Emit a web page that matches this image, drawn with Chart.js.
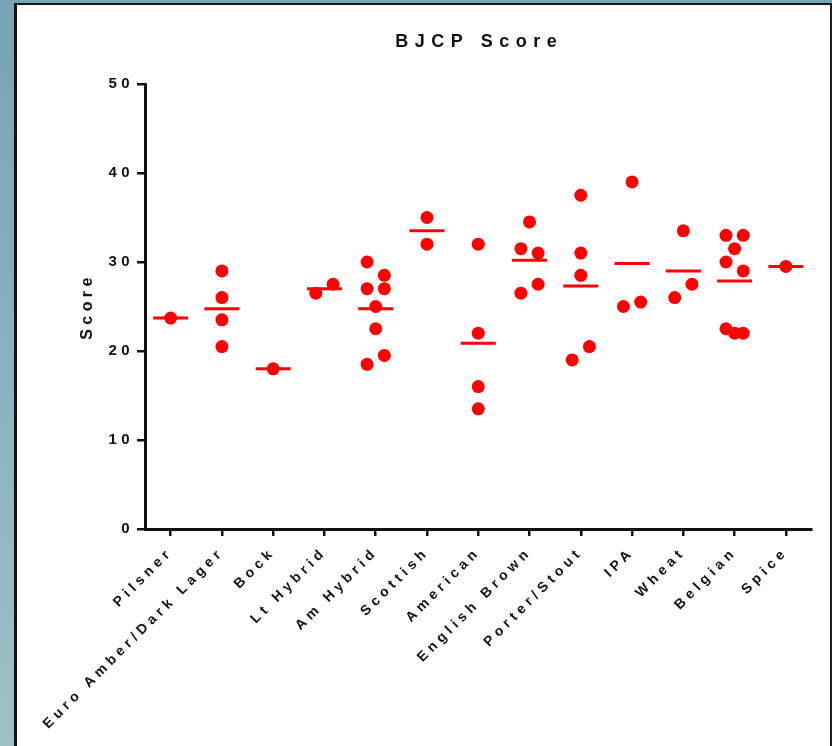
<!DOCTYPE html>
<html>
<head>
<meta charset="utf-8">
<title>BJCP Score</title>
<script src="https://cdn.jsdelivr.net/npm/chart.js@4/dist/chart.umd.min.js"></script>
<style>
  html, body { margin: 0; padding: 0; }
  body {
    width: 832px; height: 746px; position: relative; overflow: hidden;
    background: linear-gradient(to bottom, #77a4b2, #9ec0ca);
  }
  #panel {
    position: absolute; left: 14px; top: 3px; right: 0; bottom: 0;
    box-sizing: border-box; background: #ffffff;
    border-left: 3px solid #141414; border-top: 2px solid #141414; border-right: 2px solid #1e1e1e;
  }
  #wrap { position: absolute; left: 0; top: 0; width: 832px; height: 746px; }
</style>
</head>
<body>
<div id="panel"></div>
<div id="wrap"><canvas id="chart" width="832" height="746"></canvas></div>
<script>
// Beer style categories along the x axis
const categories = ['Pilsner', 'Euro Amber/Dark Lager', 'Bock', 'Lt Hybrid', 'Am Hybrid', 'Scottish',
  'American', 'English Brown', 'Porter/Stout', 'IPA', 'Wheat', 'Belgian', 'Spice'];

// Scores per style. Scores that share an inner array are close enough to sit side by side.
const pilsner      = [[23.7]];
const euroAmber    = [[29], [26], [23.5], [20.5]];
const bock         = [[18]];
const ltHybrid     = [[26.5, 27.5]];
const amHybrid     = [[30, 28.5], [27, 27], [25], [22.5], [18.5, 19.5]];
const scottish     = [[35], [32]];
const american     = [[32], [22], [16], [13.5]];
const englishBrown = [[34.5], [31.5, 31], [26.5, 27.5]];
const porterStout  = [[37.5], [31], [28.5], [19, 20.5]];
const ipa          = [[39], [25, 25.5]];
const wheat        = [[33.5], [26, 27.5]];
const belgian      = [[33, 33], [31.5], [30, 29], [22.5, 22, 22]];
const spice        = [[29.5]];

const scoresByStyle = [pilsner, euroAmber, bock, ltHybrid, amHybrid, scottish, american,
  englishBrown, porterStout, ipa, wheat, belgian, spice];

// Y axis ticks
const yTicks = [0, 10, 20, 30, 40, 50];

// Horizontal spread of side-by-side dots, as a fraction of one category slot
const LANE = 0.168;

const dots = [];
const means = [];
scoresByStyle.forEach((rows, i) => {
  let sum = 0, n = 0;
  rows.forEach(row => {
    const step = row.length === 2 ? 2 : 1;
    row.forEach((v, k) => {
      const slot = (k - (row.length - 1) / 2) * step;
      dots.push({ x: i + slot * LANE, y: v });
      sum += v; n++;
    });
  });
  means.push({ x: i, y: sum / n });
});

const FONT = 'Liberation Sans, Arial, Helvetica, sans-serif';

const spacingPlugin = {
  id: 'spacing',
  beforeDraw(chart) { chart.ctx.letterSpacing = '4.4px'; },
  afterDraw(chart) {
    const ctx = chart.ctx;
    ctx.save();
    ctx.letterSpacing = '6.5px';
    ctx.font = 'bold 18px ' + FONT;
    ctx.fillStyle = '#111';
    ctx.textAlign = 'center';
    ctx.textBaseline = 'middle';
    ctx.fillText('BJCP Score', 476 + 3.25, 42);
    ctx.restore();
  }
};

new Chart(document.getElementById('chart'), {
  type: 'scatter',
  data: {
    datasets: [
      {
        label: 'Mean',
        data: means,
        pointStyle: 'line',
        pointRadius: 17.5,
        pointHoverRadius: 17.5,
        borderColor: '#ff0000',
        backgroundColor: '#ff0000',
        borderWidth: 3,
        pointBorderWidth: 3,
        order: 0
      },
      {
        label: 'Score',
        data: dots,
        pointStyle: 'circle',
        pointRadius: 6.5,
        pointHoverRadius: 6.5,
        backgroundColor: '#ff0000',
        borderColor: '#ff0000',
        borderWidth: 0,
        order: 1
      }
    ]
  },
  options: {
    responsive: false,
    animation: false,
    events: [],
    layout: { padding: { top: 84, right: 19, left: 0, bottom: 0 } },
    plugins: { legend: { display: false }, tooltip: { enabled: false }, title: { display: false } },
    scales: {
      x: {
        type: 'linear',
        min: -0.5,
        max: categories.length - 0.5,
        afterBuildTicks(scale) {
          scale.ticks = categories.map((c, i) => ({ value: i }));
        },
        afterFit(scale) { scale.height = 746 - 529; },
        ticks: {
          autoSkip: false,
          minRotation: 45,
          maxRotation: 45,
          padding: 8,
          color: '#111',
          font: { family: FONT, size: 14, weight: 'bold' },
          callback: (v) => categories[v]
        },
        grid: { display: true, drawOnChartArea: false, drawTicks: true, tickLength: 7, color: '#111', lineWidth: 2.5 },
        border: { display: true, color: '#111', width: 3 }
      },
      y: {
        min: 0,
        max: 50,
        afterBuildTicks(scale) {
          scale.ticks = yTicks.map(v => ({ value: v }));
        },
        afterFit(scale) { scale.width = 145; },
        ticks: {
          padding: 3,
          color: '#111',
          font: { family: FONT, size: 15, weight: 'bold' }
        },
        title: {
          display: true,
          text: 'Score',
          color: '#111',
          font: { family: FONT, size: 16, weight: 'bold' },
          padding: { top: 78, bottom: 0 }
        },
        grid: { display: true, drawOnChartArea: false, drawTicks: true, tickLength: 8, color: '#111', lineWidth: 2.5 },
        border: { display: true, color: '#111', width: 3 }
      }
    }
  },
  plugins: [spacingPlugin]
});
</script>
</body>
</html>
